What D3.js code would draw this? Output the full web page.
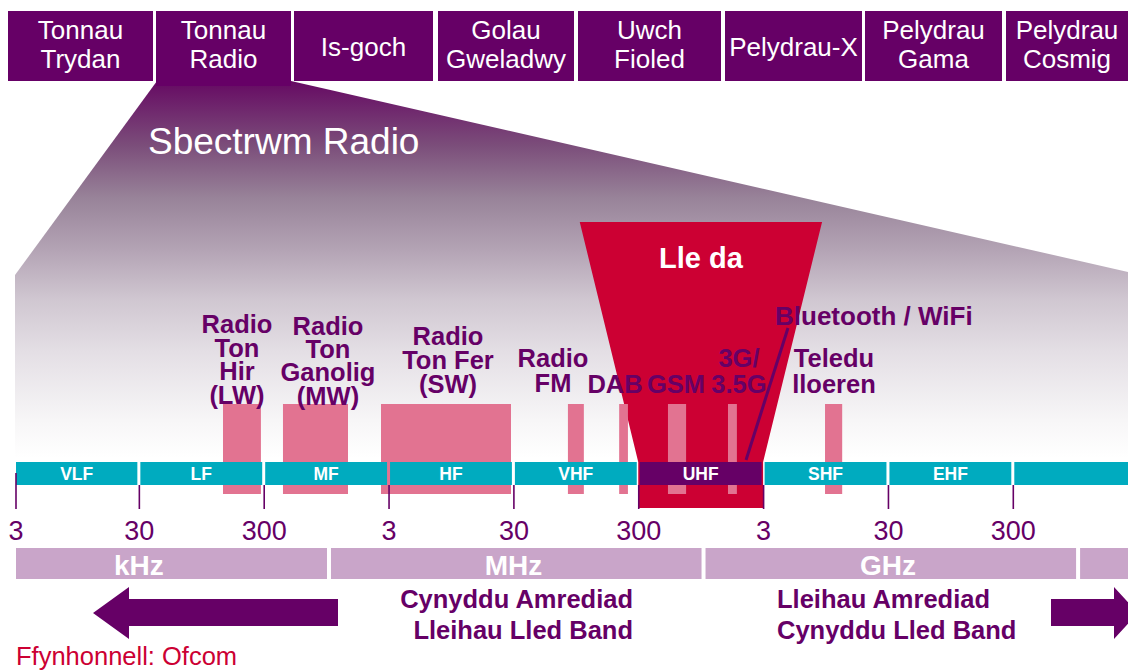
<!DOCTYPE html>
<html>
<head>
<meta charset="utf-8">
<script src="https://cdn.jsdelivr.net/npm/d3@7"></script>
<style>
html,body{margin:0;padding:0;background:#fff;}
svg{display:block;font-family:"Liberation Sans",Arial,sans-serif;}
</style>
</head>
<body>
<svg id="chart" width="1128" height="670"></svg>
<script>
// ---------------- DATA ----------------
const spectrumCategories = ["Tonnau\nTrydan","Tonnau\nRadio","Is-goch","Golau\nGweladwy","Uwch\nFioled","Pelydrau-X","Pelydrau\nGama","Pelydrau\nCosmig"];
const decadeEdges = [3e3,3e4,3e5,3e6,3e7,3e8,3e9,3e10,3e11,3e12];           // Hz
const bandNames = ["VLF","LF","MF","HF","VHF","UHF","SHF","EHF",""];
const tickValues = [3e3,3e4,3e5,3e6,3e7,3e8,3e9,3e10,3e11];
const tickLabels = ["3","30","300","3","30","300","3","30","300"];
const unitNames = ["kHz","MHz","GHz",""];
const unitStart = [3e3,1e6,1e9,1e12];
const unitEnd   = [1e6,1e9,1e12,3e12];
const unitLabelAt = [3e4,3e7,3e10,null];
const serviceNames = ["LW","MW","SW","FM","DAB","GSM","3G","Teledu lloeren"];
const serviceLow  = [141.6e3, 428e3, 2.61e6, 82e6, 211e6, 519e6, 1.57e9, 9.4e9];   // Hz
const serviceHigh = [285e3, 1.42e6, 28.7e6, 110e6, 248e6, 725e6, 1.85e9, 12.9e9];  // Hz
const serviceLabels = [["Radio","Ton","Hir","(LW)"],["Radio","Ton","Ganolig","(MW)"],["Radio","Ton Fer","(SW)"],["Radio","FM"],["DAB"],["GSM"],["3G/","3.5G"],["Teledu","lloeren"]];
const sweetSpotTop = [1.02e8, 8.9e9];
const sweetSpotBottom = [3e8, 3e9];
const bluetoothFreq = 2.19e9;
const titleText = "Sbectrwm Radio";
const sweetSpotText = "Lle da";
const bluetoothText = "Bluetooth / WiFi";
const leftNote = ["Cynyddu Amrediad","Lleihau Lled Band"];
const rightNote = ["Lleihau Amrediad","Cynyddu Lled Band"];
const sourceText = "Ffynhonnell: Ofcom";

// ---------------- LAYOUT / STYLE ----------------
const PURPLE = "#660066", CYAN = "#00abbf", RED = "#cc0033", PINK = "#e27391", LILAC = "#c9a5c9";
const boxX = [[8,153],[156,291],[294,433],[438,574],[578,721],[725,862],[865,1002],[1006,1128]];
const labelX = [237,328,448,553,615,676,739,834];
const labelY = [[333,357,380,404],[335,358,381,405],[345,369,393],[367,392],[393],[393],[367,393],[367,393]];
const bandTop = 462, bandBot = 485;
const barTop = 404, barBot = 494;
const stripLeft = 16;

const svg = d3.select("#chart");
const x = d3.scaleLog().domain([3e3, 3e12]).range([14, 14 + 9*124.85]);

// gradient
const defs = svg.append("defs");
const grad = defs.append("linearGradient").attr("id","fan").attr("gradientUnits","userSpaceOnUse")
  .attr("x1",0).attr("y1",81).attr("x2",0).attr("y2",458);
[[0,"#660a63"],[0.17,"#7b4d7a"],[0.31,"#988399"],[0.45,"#b4a4b5"],[0.58,"#d0c7d1"],[0.72,"#e4dfe5"],[0.9,"#f7f6f7"],[1,"#ffffff"]]
  .forEach(s => grad.append("stop").attr("offset",s[0]).attr("stop-color",s[1]));

svg.append("path")
  .attr("d", d3.line()([[157,81],[291,81],[1128,272],[1128,458],[15,458],[15,275]]) + "Z")
  .attr("fill","url(#fan)");

// top boxes
const boxes = svg.append("g").selectAll("g").data(spectrumCategories).join("g");
boxes.append("rect")
  .attr("x",(d,i)=>boxX[i][0]).attr("width",(d,i)=>boxX[i][1]-boxX[i][0])
  .attr("y",11).attr("height",(d,i)=> i===1 ? 75 : 70).attr("fill",PURPLE);
boxes.each(function(d,i){
  const lines = d.split("\n");
  const cx = (boxX[i][0]+boxX[i][1])/2;
  const ys = lines.length===2 ? [39,68] : [56];
  d3.select(this).selectAll("text").data(lines).join("text")
    .attr("x",cx).attr("y",(l,j)=>ys[j]).attr("text-anchor","middle")
    .attr("fill","#fff").attr("font-size",26).text(l=>l);
});

svg.append("text").attr("x",148).attr("y",154).attr("fill","#fff").attr("font-size",37).text(titleText);

// sweet spot trapezoid
svg.append("path").attr("d", d3.line()([
  [x(sweetSpotTop[0]),222],[x(sweetSpotTop[1]),222],
  [x(sweetSpotBottom[1]),bandTop],[x(sweetSpotBottom[1]),508],
  [x(sweetSpotBottom[0]),508],[x(sweetSpotBottom[0]),bandTop]]) + "Z")
  .attr("fill",RED);
svg.append("text").attr("x",(x(sweetSpotTop[0])+x(sweetSpotTop[1]))/2).attr("y",268)
  .attr("text-anchor","middle").attr("fill","#fff").attr("font-size",29).attr("font-weight","bold").text(sweetSpotText);

// service bars
svg.append("g").selectAll("rect").data(serviceNames).join("rect")
  .attr("x",(d,i)=>x(serviceLow[i])).attr("width",(d,i)=>x(serviceHigh[i])-x(serviceLow[i]))
  .attr("y",barTop).attr("height",barBot-barTop).attr("fill",PINK);

// band strip
const bands = svg.append("g").selectAll("g").data(bandNames).join("g");
const segL = i => i===0 ? Math.max(x(decadeEdges[0]), stripLeft) : x(decadeEdges[i]) + 1.5;
const segR = i => x(decadeEdges[i+1]) - 1.5;
bands.append("rect")
  .attr("x",(d,i)=> segL(i))
  .attr("width",(d,i)=> segR(i) - segL(i))
  .attr("y",bandTop).attr("height",bandBot-bandTop)
  .attr("fill",d=> d==="UHF" ? PURPLE : CYAN);
bands.append("text")
  .attr("x",(d,i)=> (segL(i)+segR(i))/2).attr("y",480)
  .attr("text-anchor","middle").attr("fill","#fff").attr("font-size",17.5).attr("font-weight","bold").text(d=>d);

// axis
const axis = d3.axisBottom(x).tickValues(tickValues).tickFormat((d,i)=>tickLabels[i]).tickSize(24).tickPadding(12);
const ag = svg.append("g").attr("transform",`translate(0,${bandBot})`).call(axis);
ag.select(".domain").remove();
ag.selectAll(".tick line").attr("stroke",PURPLE).attr("stroke-width",1.6);
ag.selectAll(".tick text").attr("fill",PURPLE).attr("font-size",27).attr("font-family","Liberation Sans, Arial, sans-serif");
ag.select(".tick").attr("transform",`translate(${stripLeft},0)`);
ag.select(".tick line").attr("y1",-12);

// bluetooth line
svg.append("line").attr("x1",788).attr("y1",328).attr("x2",x(bluetoothFreq)).attr("y2",bandTop-2)
  .attr("stroke",PURPLE).attr("stroke-width",3);
svg.append("text").attr("x",775).attr("y",325).attr("fill",PURPLE).attr("font-size",26).attr("font-weight","bold").text(bluetoothText);

// service labels
serviceLabels.forEach((lines,i)=>{
  svg.append("g").selectAll("text").data(lines).join("text")
    .attr("x",labelX[i]).attr("y",(l,j)=>labelY[i][j]).attr("text-anchor","middle")
    .attr("fill",PURPLE).attr("font-size",25.5).attr("font-weight","bold").text(l=>l);
});

// unit strip
const units = svg.append("g").selectAll("g").data(unitNames).join("g");
const uL = i => i===0 ? stripLeft : x(unitStart[i]) + 2;
const uR = i => Math.min(x(unitEnd[i]), 1140) - 2;
units.append("rect")
  .attr("x",(d,i)=> uL(i))
  .attr("width",(d,i)=> uR(i) - uL(i))
  .attr("y",548).attr("height",31).attr("fill",LILAC);
units.filter((d,i)=>unitLabelAt[i]!==null).append("text")
  .attr("x",(d)=> x(unitLabelAt[unitNames.indexOf(d)])).attr("y",575)
  .attr("text-anchor","middle").attr("fill","#fff").attr("font-size",28).attr("font-weight","bold").text(d=>d);

// arrows
svg.append("path").attr("d", d3.line()([[338,599],[129,599],[129,587],[93,613],[129,639],[129,626],[338,626]])+"Z").attr("fill",PURPLE);
svg.append("path").attr("d", d3.line()([[1051,599],[1114,599],[1114,587],[1138,613],[1114,639],[1114,626],[1051,626]])+"Z").attr("fill",PURPLE);

// notes
svg.append("g").selectAll("text").data(leftNote).join("text")
  .attr("x",633).attr("y",(d,i)=>608+i*31).attr("text-anchor","end")
  .attr("fill",PURPLE).attr("font-size",25.5).attr("font-weight","bold").text(d=>d);
svg.append("g").selectAll("text").data(rightNote).join("text")
  .attr("x",777).attr("y",(d,i)=>608+i*31).attr("text-anchor","start")
  .attr("fill",PURPLE).attr("font-size",25.5).attr("font-weight","bold").text(d=>d);

svg.append("text").attr("x",16).attr("y",665).attr("fill",RED).attr("font-size",25.5).text(sourceText);
</script>
</body>
</html>
